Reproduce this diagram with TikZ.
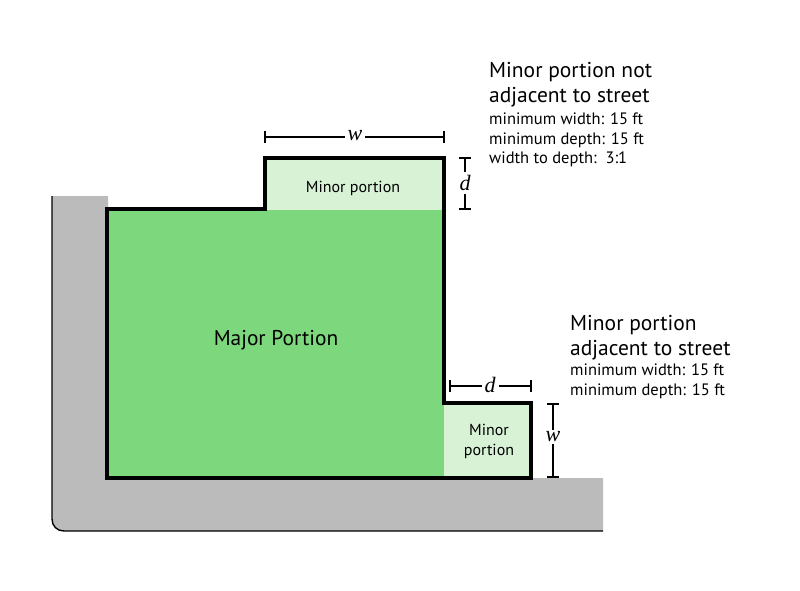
\documentclass[tikz,border=0pt]{standalone}
\usepackage{fontspec}
\setmainfont{PT Sans}
\newfontfamily\dimfont{Liberation Serif}
\definecolor{majgreen}{RGB}{125,216,125}
\definecolor{mingreen}{RGB}{216,242,214}
\definecolor{walk}{RGB}{187,187,187}
\begin{document}
\begin{tikzpicture}[x=1pt,y=-1pt,
  lotline/.style={line width=3.2pt,line join=miter},
  dimline/.style={line width=1.1pt},
  dimlab/.style={font=\fontsize{22}{22}\selectfont\dimfont\itshape,fill=white,inner sep=3pt},
  bigtxt/.style={font=\fontsize{21.5}{25}\selectfont,align=left,anchor=north west,inner sep=0pt},
  smalltxt/.style={font=\fontsize{16.5}{19.2}\selectfont,align=left,anchor=north west,inner sep=0pt},
  lbl/.style={font=\fontsize{16}{20}\selectfont,align=center}]
\useasboundingbox (0,0) rectangle (800,591);
% sidewalk
\fill[walk] (52,196) -- (108,196) -- (108,478) -- (603,478) -- (603,531) -- (64,531) .. controls (57,531) and (52,526) .. (52,519) -- cycle;
\draw[line width=1.4pt] (52,196) -- (52,519) .. controls (52,526) and (57,531) .. (64,531) -- (603,531);
% lot
\fill[majgreen] (107,209) rectangle (444,478);
\fill[mingreen] (265,158) rectangle (444,210);
\fill[mingreen] (444,403) rectangle (531,478);
\draw[lotline] (107,478) -- (107,209) -- (265,209) -- (265,158) -- (444,158) -- (444,403) -- (531,403) -- (531,478) -- cycle;
% labels
\node[font=\fontsize{21.4}{21}\selectfont] (major) at (276,340) {Major Portion};
\node[lbl] (minA) at (353,188) {Minor portion};
\node[lbl] (minB) at (489,441) {Minor\\portion};
% dimension: top w
\coordinate (tw1) at (265,137); \coordinate (tw2) at (444,137);
\draw[dimline] (tw1) -- (tw2);
\draw[dimline] ([yshift=-6]tw1) -- ([yshift=6]tw1);
\draw[dimline] ([yshift=-6]tw2) -- ([yshift=6]tw2);
\node[dimlab] (twl) at (355,136) {w};
% dimension: top d
\coordinate (td1) at (465,158); \coordinate (td2) at (465,209);
\draw[dimline] (td1) -- (td2);
\draw[dimline] ([xshift=-6]td1) -- ([xshift=6]td1);
\draw[dimline] ([xshift=-6]td2) -- ([xshift=6]td2);
\node[dimlab] (tdl) at (465,183) {d};
% dimension: bottom d
\coordinate (bd1) at (450,386); \coordinate (bd2) at (531,386);
\draw[dimline] (bd1) -- (bd2);
\draw[dimline] ([yshift=-6]bd1) -- ([yshift=6]bd1);
\draw[dimline] ([yshift=-6]bd2) -- ([yshift=6]bd2);
\node[dimlab] (bdl) at (490,385) {d};
% dimension: bottom w
\coordinate (bw1) at (553,404); \coordinate (bw2) at (553,477);
\draw[dimline] (bw1) -- (bw2);
\draw[dimline] ([xshift=-6]bw1) -- ([xshift=6]bw1);
\draw[dimline] ([xshift=-6]bw2) -- ([xshift=6]bw2);
\node[dimlab,inner sep=2pt] (bwl) at (553,437) {w};
% notes
\node[bigtxt] (n1) at (489,62) {Minor portion not\\adjacent to street};
\node[smalltxt] (n1s) at (489,113) {minimum width: 15 ft\\minimum depth: 15 ft\\width to depth:\ \ 3:1};
\node[bigtxt] (n2) at (570,315) {Minor portion\\adjacent to street};
\node[smalltxt] (n2s) at (570,364) {minimum width: 15 ft\\minimum depth: 15 ft};
\end{tikzpicture}
\end{document}
